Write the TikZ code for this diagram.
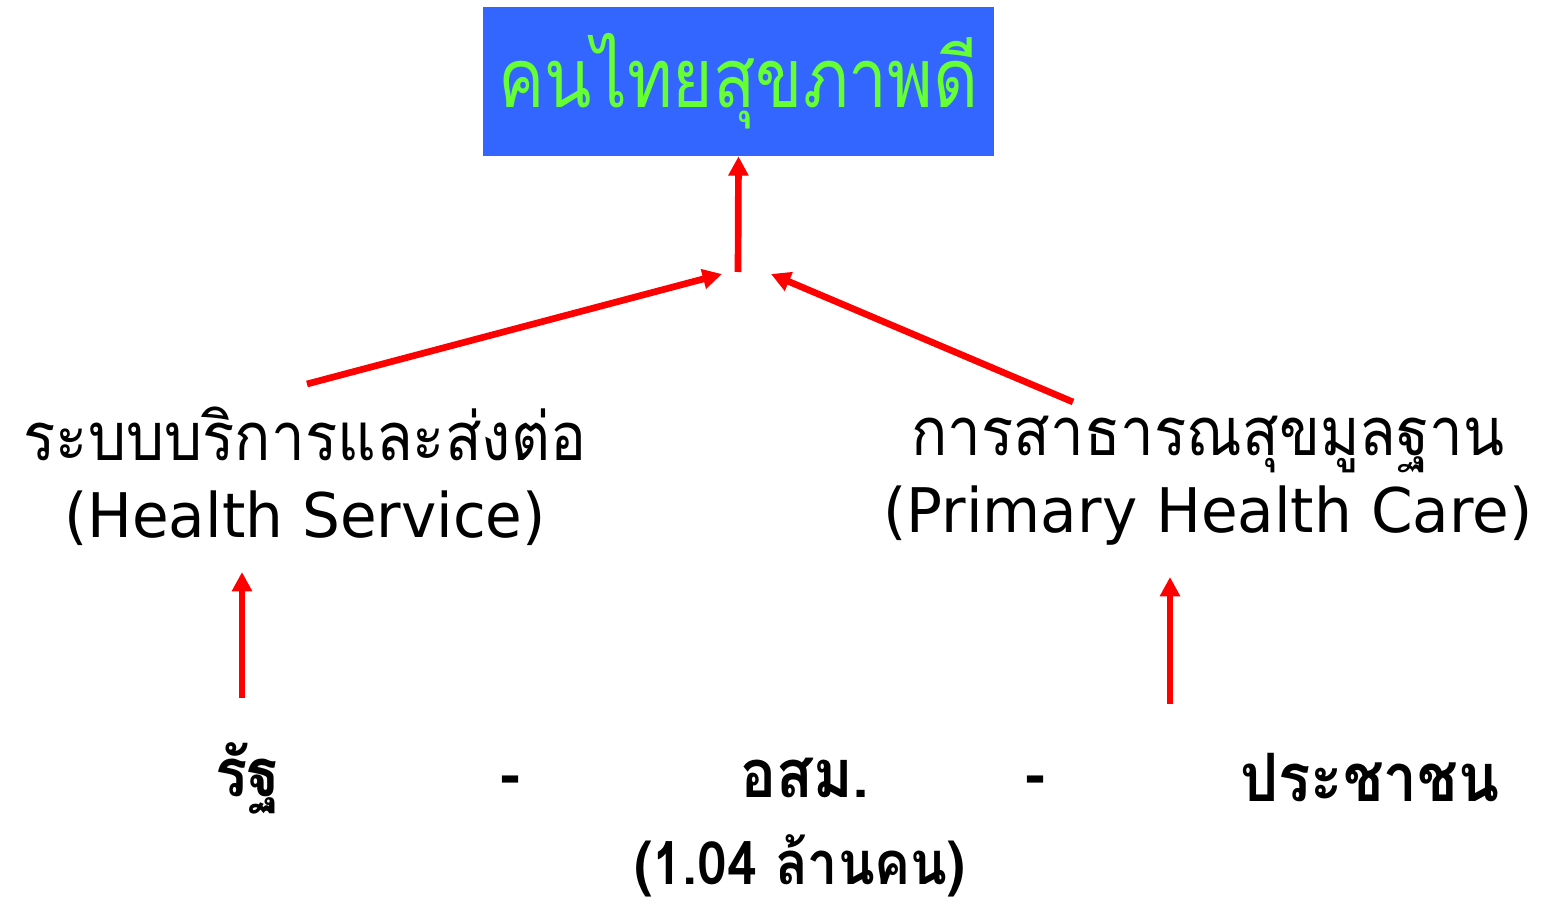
\documentclass[tikz,border=0pt]{standalone}
\usepackage{fontspec}
\newfontfamily\thaifont[Script=Thai, FakeStretch=0.9]{Loma}
\newfontfamily\titlefont[Script=Thai, FakeStretch=0.84]{Loma}
\newfontfamily\latinfont[FakeStretch=0.97]{DejaVu Sans}
\usetikzlibrary{arrows.meta}
\definecolor{boxblue}{HTML}{3366FF}
\definecolor{titlegreen}{HTML}{66FF33}

\begin{document}
\begin{tikzpicture}
  [x=0.02cm,y=-0.02cm]
  \tikzstyle{red_arrow} = [draw=red, line width=3.8pt, -{Triangle[length=11pt,width=11pt]}]
  \tikzstyle{label_text} = [font=\fontsize{38pt}{44pt}\selectfont, align=center, inner sep=0pt]
  \tikzstyle{row_text} = [font=\thaifont\bfseries\fontsize{38pt}{40pt}\selectfont, inner sep=0pt]
  \useasboundingbox (0,0) rectangle (1544,915);
  \node[fill=boxblue, minimum width=511*0.02cm, minimum height=149*0.02cm, inner sep=0pt,
        text=titlegreen, font=\titlefont\fontsize{47pt}{50pt}\selectfont] (goal) at (738.5,81.5) {คนไทยสุขภาพดี};
  \coordinate (hub) at (738,272);
  \coordinate (hubL) at (722,274);
  \coordinate (hubR) at (771,274);
  \node[label_text] (service) at (305,476) {\thaifont ระบบบริการและส่งต่อ\\{\latinfont\fontsize{35pt}{44pt}\selectfont (Health Service)}};
  \node[label_text] (phc) at (1208,481) {\thaifont การสาธารณสุขมูลฐาน\\{\latinfont\fontsize{35pt}{44pt}\selectfont (Primary Health Care)}};
  \node[row_text] (state) at (248,778) {รัฐ};
  \node[row_text] (dashL) at (510,786) {-};
  \node[row_text] (vhv) at (805,778) {อสม.};
  \node[row_text] (dashR) at (1035,786) {-};
  \node[row_text] (people) at (1370,778) {ประชาชน};
  \node[row_text, font=\thaifont\bfseries\fontsize{34pt}{40pt}\selectfont] (count) at (800,866) {(1.04 ล้านคน)};
  \coordinate (serviceTop) at (307,384);
  \coordinate (phcTop) at (1073,402);
  \coordinate (stateTop) at (242,698);
  \coordinate (peopleTop) at (1170,704);
  \draw[red_arrow] (hub) -- (goal.south);
  \draw[red_arrow] (serviceTop) -- (hubL);
  \draw[red_arrow] (phcTop) -- (hubR);
  \draw[red_arrow] (stateTop) -- (242,572);
  \draw[red_arrow] (peopleTop) -- (1170,577);
\end{tikzpicture}
\end{document}
